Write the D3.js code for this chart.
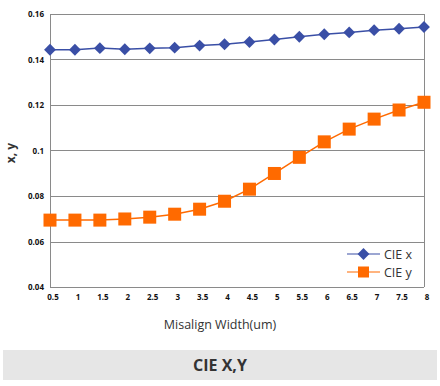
<!DOCTYPE HTML>
<html lang="en">
<head>
<meta charset="utf-8" />
<title>CIE X,Y</title>
<style>
  body { margin: 0; background: #fff; }
  svg { display: block; font-family: "Open Sans", "DejaVu Sans", sans-serif; }
</style>
</head>
<body>
<div id="chart"></div>
<script src="https://d3js.org/d3.v7.min.js"></script>
<script>
const widths = ['0.5', '1', '1.5', '2', '2.5', '3', '3.5', '4', '4.5', '5', '5.5', '6', '6.5', '7', '7.5', '8'];
const cieX = [0.1443, 0.1443, 0.1450, 0.1445, 0.1449, 0.1452, 0.1461, 0.1467, 0.1477, 0.1488, 0.1500, 0.1511, 0.1519, 0.1529, 0.1535, 0.1543];
const cieY = [0.0694, 0.0694, 0.0694, 0.0699, 0.0707, 0.0720, 0.0742, 0.0777, 0.0830, 0.0899, 0.0970, 0.1038, 0.1094, 0.1138, 0.1178, 0.1212];
const yTicks = [0.04, 0.06, 0.08, 0.1, 0.12, 0.14, 0.16];

const width = 440;
const height = 386;
const margin = { top: 14, right: 16, bottom: 99, left: 50 };
const blue = '#3a4fa6';
const orange = '#ff6a00';

const svg = d3.select('#chart')
    .append('svg')
    .attr('width', width)
    .attr('height', height);

const x = d3.scalePoint()
    .domain(widths)
    .range([margin.left, width - margin.right]);

const y = d3.scaleLinear()
    .domain([0.04, 0.16])
    .range([height - margin.bottom, margin.top]);

// grid lines
svg.append('g')
    .selectAll('line')
    .data(yTicks)
    .enter()
    .append('line')
    .attr('x1', margin.left)
    .attr('x2', width - margin.right)
    .attr('y1', d => Math.round(y(d)) + 0.5)
    .attr('y2', d => Math.round(y(d)) + 0.5)
    .attr('stroke', '#8a8a8a')
    .attr('stroke-width', 1);

// plot frame (left, right)
svg.append('line')
    .attr('x1', margin.left + 0.5).attr('x2', margin.left + 0.5)
    .attr('y1', y(0.16)).attr('y2', y(0.04))
    .attr('stroke', '#8a8a8a');
svg.append('line')
    .attr('x1', width - margin.right + 0.5).attr('x2', width - margin.right + 0.5)
    .attr('y1', y(0.16)).attr('y2', y(0.04))
    .attr('stroke', '#8a8a8a');

// y tick labels
svg.append('g')
    .selectAll('text')
    .data(yTicks)
    .enter()
    .append('text')
    .attr('x', margin.left - 6)
    .attr('y', d => y(d) + 3)
    .attr('text-anchor', 'end')
    .attr('font-size', 8)
    .attr('font-weight', 'bold')
    .attr('fill', '#111')
    .text(d => d === 0.1 ? '0.1' : d.toFixed(2));

// x tick labels
svg.append('g')
    .selectAll('text')
    .data(widths)
    .enter()
    .append('text')
    .attr('x', d => x(d) + 3)
    .attr('y', height - margin.bottom + 13)
    .attr('text-anchor', 'middle')
    .attr('font-size', 8)
    .attr('font-weight', 'bold')
    .attr('fill', '#111')
    .text(d => d);

// axis titles
svg.append('text')
    .attr('x', 220)
    .attr('y', 329)
    .attr('text-anchor', 'middle')
    .attr('font-size', 12.5)
    .attr('fill', '#333')
    .text('Misalign Width(um)');

svg.append('text')
    .attr('transform', 'translate(15, 153) rotate(-90)')
    .attr('text-anchor', 'middle')
    .attr('font-size', 12)
    .attr('font-weight', 'bold')
    .attr('fill', '#333')
    .text('x, y');

// lines
const lineX = d3.line().x((d, i) => x(widths[i])).y(d => y(d));

svg.append('path')
    .datum(cieX)
    .attr('d', lineX)
    .attr('fill', 'none')
    .attr('stroke', blue)
    .attr('stroke-width', 1.5);

svg.append('path')
    .datum(cieY)
    .attr('d', lineX)
    .attr('fill', 'none')
    .attr('stroke', orange)
    .attr('stroke-width', 1.5);

const diamond = d3.symbol().type(d3.symbolSquare).size(70);

svg.append('g')
    .selectAll('path')
    .data(cieX)
    .enter()
    .append('path')
    .attr('d', diamond)
    .attr('transform', (d, i) => `translate(${x(widths[i])}, ${y(d)}) rotate(45)`)
    .attr('fill', blue);

svg.append('g')
    .selectAll('rect')
    .data(cieY)
    .enter()
    .append('rect')
    .attr('x', (d, i) => x(widths[i]) - 6.5)
    .attr('y', d => y(d) - 6.5)
    .attr('width', 13)
    .attr('height', 13)
    .attr('fill', orange);

// legend
const legend = svg.append('g')
    .attr('transform', 'translate(347, 254)');

legend.append('line')
    .attr('x1', 0).attr('x2', 33).attr('y1', 0).attr('y2', 0)
    .attr('stroke', blue).attr('stroke-width', 1.2);
legend.append('path')
    .attr('d', diamond)
    .attr('transform', 'translate(16.5, 0) rotate(45)')
    .attr('fill', blue);
legend.append('text')
    .attr('x', 37).attr('y', 4.5)
    .attr('font-size', 12.5)
    .attr('fill', '#333')
    .text('CIE x');

legend.append('line')
    .attr('x1', 0).attr('x2', 33).attr('y1', 18).attr('y2', 18)
    .attr('stroke', orange).attr('stroke-width', 1.2);
legend.append('rect')
    .attr('x', 11).attr('y', 12.5).attr('width', 11).attr('height', 11)
    .attr('fill', orange);
legend.append('text')
    .attr('x', 37).attr('y', 22.5)
    .attr('font-size', 12.5)
    .attr('fill', '#333')
    .text('CIE y');

// title banner
svg.append('rect')
    .attr('x', 3)
    .attr('y', 350)
    .attr('width', 434)
    .attr('height', 30)
    .attr('fill', '#e6e6e6');

svg.append('text')
    .attr('x', 220)
    .attr('y', 371)
    .attr('text-anchor', 'middle')
    .attr('font-size', 16)
    .attr('font-weight', 'bold')
    .attr('fill', '#333')
    .text('CIE X,Y');
</script>
</body>
</html>
